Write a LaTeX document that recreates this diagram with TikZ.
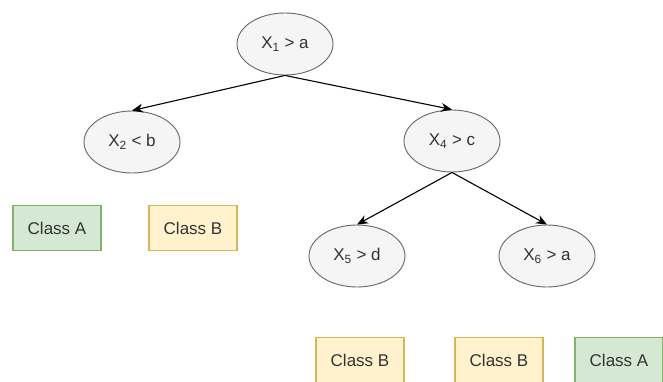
\documentclass[tikz,border=0pt]{standalone}
\usepackage{fontspec}
\setmainfont{Liberation Sans}
\usetikzlibrary{shapes.geometric,arrows.meta}

\definecolor{splitfill}{HTML}{F5F5F5}
\definecolor{splitline}{HTML}{666666}
\definecolor{greenfill}{HTML}{D5E8D4}
\definecolor{greenline}{HTML}{82B366}
\definecolor{yellowfill}{HTML}{FFF2CC}
\definecolor{yellowline}{HTML}{D6B656}
\definecolor{labeltext}{HTML}{333333}

\tikzset{
  split/.style={ellipse,draw=splitline,fill=splitfill,line width=0.9pt,
    minimum width=96pt,minimum height=62pt,inner sep=0pt,
    text=labeltext,font=\fontsize{17}{20}\selectfont},
  leafA/.style={rectangle,draw=greenline,fill=greenfill,line width=1.2pt,
    minimum width=88pt,minimum height=45pt,inner sep=0pt,
    text=labeltext,font=\fontsize{17}{20}\selectfont},
  leafB/.style={leafA,draw=yellowline,fill=yellowfill},
  branch/.style={-{Stealth[length=11pt,width=9pt]},line width=1.1pt,black}
}

\begin{document}
\begin{tikzpicture}[x=1pt,y=-1pt]
\useasboundingbox (0,0) rectangle (663,381);

% split tests
\node[split] (x1) at (285,44) {X\textsubscript{1} > a};
\node[split] (x2) at (132,142) {X\textsubscript{2} < b};
\node[split] (x4) at (452,141) {X\textsubscript{4} > c};
\node[split] (x5) at (357,256) {X\textsubscript{5} > d};
\node[split] (x6) at (547,256) {X\textsubscript{6} > a};

% leaves
\node[leafA] (leaf1) at (57,228) {Class A};
\node[leafB] (leaf2) at (193,228) {Class B};
\node[leafB] (leaf3) at (360,360) {Class B};
\node[leafB] (leaf4) at (499,360) {Class B};
\node[leafA] (leaf5) at (619,360) {Class A};

% edges
\draw[branch] (x1.south) -- (x2.north);
\draw[branch] (x1.south) -- (x4.north);
\draw[branch] (x4.south) -- (x5.north);
\draw[branch] (x4.south) -- (x6.north);
\end{tikzpicture}
\end{document}
